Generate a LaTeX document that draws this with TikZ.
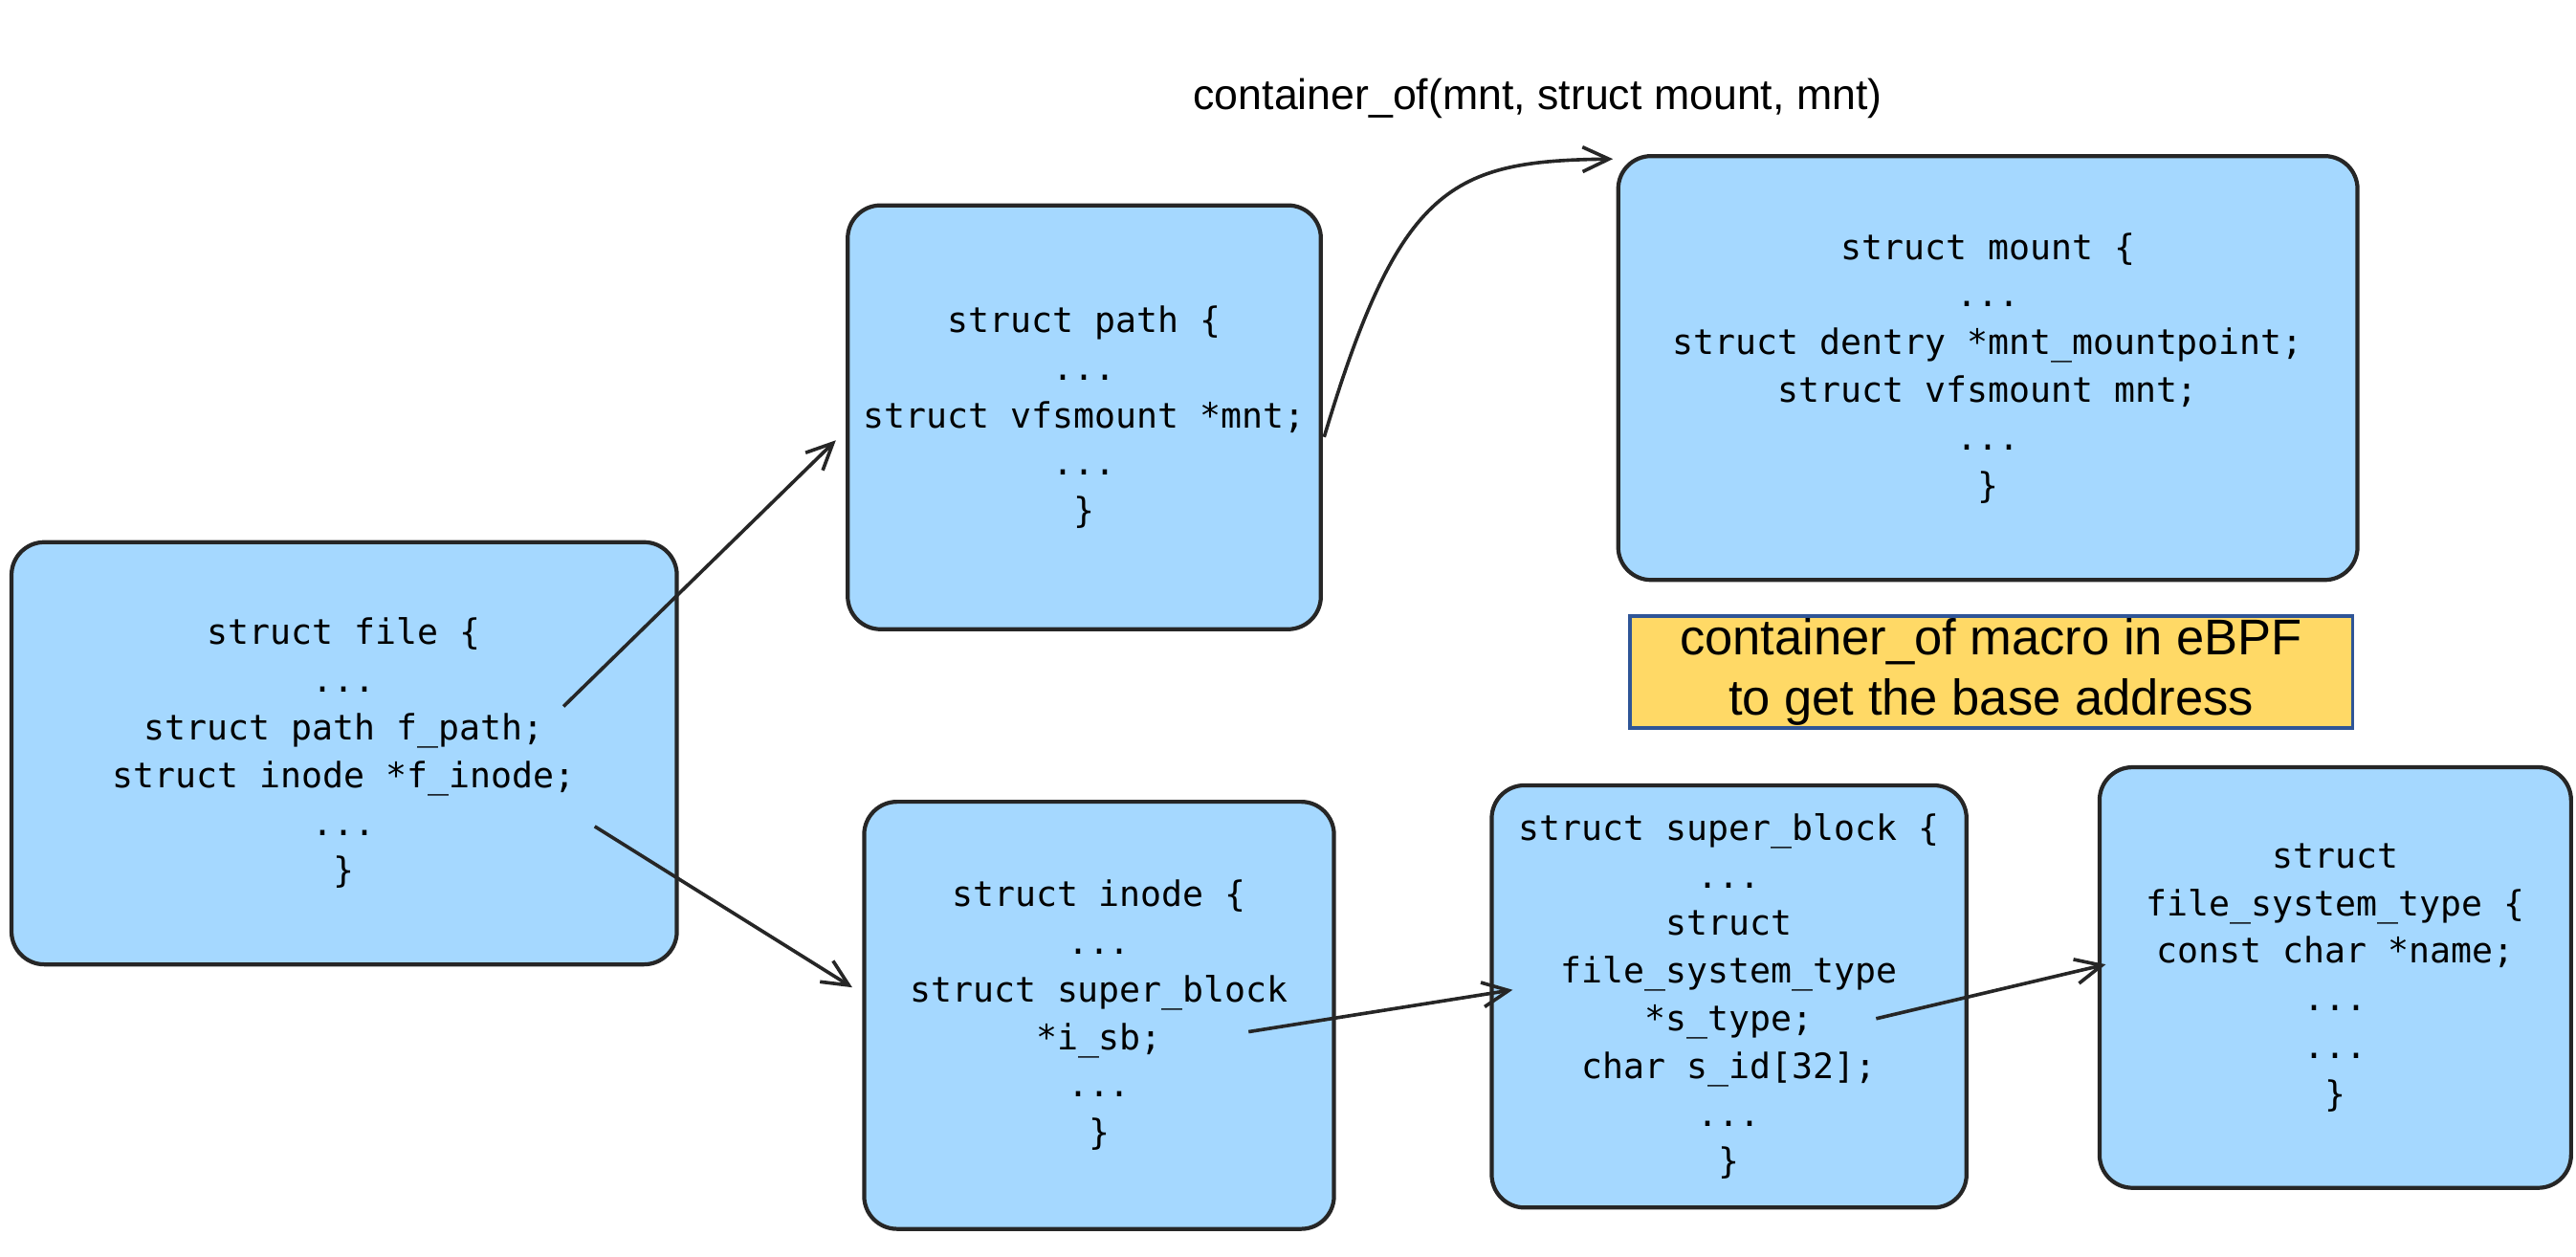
\documentclass[tikz,border=0pt]{standalone}
\usepackage{fontspec}
\setmainfont{Liberation Sans}
\newfontfamily\codefont{DejaVu Sans Mono}
\usetikzlibrary{arrows.meta,calc}
\definecolor{boxblue}{HTML}{A5D8FF}
\definecolor{notefill}{HTML}{FFD966}
\definecolor{noteline}{HTML}{2F5597}
\tikzset{
  structbox/.style={draw=black!85,fill=boxblue,line width=0.7pt,rounded corners=2mm,
    align=center,inner sep=0pt,font=\codefont\fontsize{6.05}{8.25}\selectfont},
  ptr/.style={line width=0.6pt,black!85,-{Straight Barb[length=1.6mm,width=1.5mm]}},
}
\begin{document}
\begin{tikzpicture}[x=0.1mm,y=-0.1mm]
   \useasboundingbox (0,0) rectangle (1568,765);
   \node[structbox,minimum width=40.5mm,minimum height=25.7mm] (file) at (209.5,458.5)
    {struct file \{\\...\\struct path f\_path;\\struct inode *f\_inode;\\...\\\}};
   \node[structbox,minimum width=28.8mm,minimum height=25.8mm] (path) at (660,254)
    {struct path \{\\...\\struct vfsmount *mnt;\\...\\\}};
   \node[structbox,minimum width=45mm,minimum height=25.8mm] (mount) at (1210,224)
    {struct mount \{\\...\\struct dentry *mnt\_mountpoint;\\struct vfsmount mnt;\\...\\\}};
   \node[structbox,minimum width=28.6mm,minimum height=26mm] (inode) at (669,618)
    {struct inode \{\\...\\struct super\_block\\\relax *i\_sb;\\...\\\}};
   \node[structbox,minimum width=28.9mm,minimum height=25.7mm] (sblock) at (1052.5,606.5)
    {struct super\_block \{\\...\\struct\\file\_system\_type\\\relax *s\_type;\\char s\_id[32];\\...\\\}};
   \node[structbox,minimum width=28.7mm,minimum height=25.6mm] (fstype) at (1421.5,595)
    {struct\\file\_system\_type \{\\const char *name;\\...\\...\\\}};
   \node[draw=noteline,fill=notefill,line width=0.6pt,minimum width=44mm,minimum height=6.8mm,
    inner sep=0pt,align=center,font=\fontsize{8.7}{10.5}\selectfont] (note) at (1212,409)
    {container\_of macro in eBPF\\to get the base address};
   \node[font=\fontsize{7.4}{9}\selectfont] (title) at (936,60) {container\_of(mnt, struct mount, mnt)};
   \coordinate (fpath) at (343,430);
   \coordinate (finode) at (362,503);
   \coordinate (pmnt) at (806,266);
   \coordinate (isb) at (760,628);
   \coordinate (stype) at (1142,620);
   \draw[ptr] (fpath) -- ($(path.west)+(-6,14)$);
   \draw[ptr] (finode) -- ($(inode.west)+(-6,-17)$);
   \draw[ptr] (pmnt) .. controls (852,112) and (884,98) .. ($(mount.north west)+(-2,3)$);
   \draw[ptr] (isb) -- ($(sblock.west)+(14,-4)$);
   \draw[ptr] (stype) -- ($(fstype.west)+(5,-8)$);
\end{tikzpicture}
\end{document}
